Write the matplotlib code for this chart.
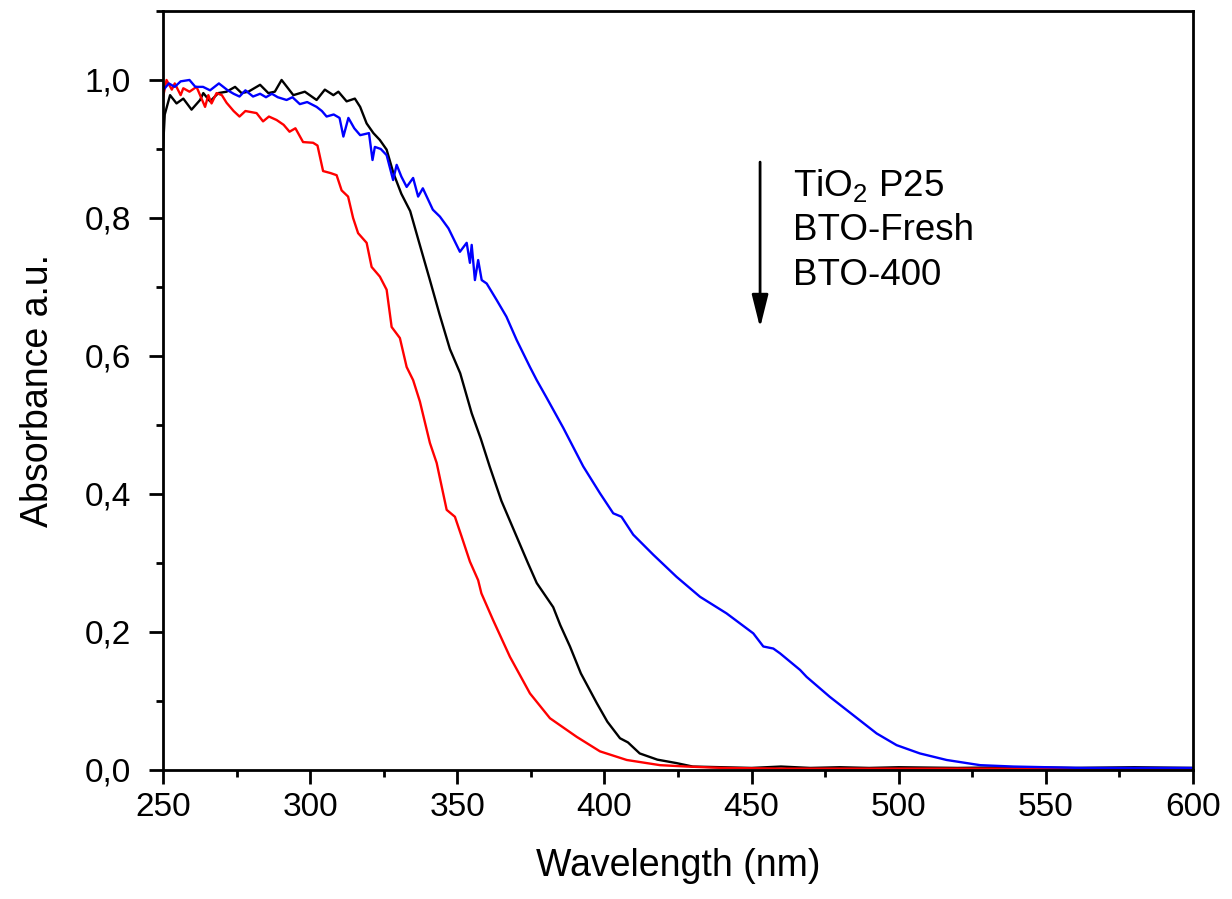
import matplotlib
matplotlib.use("Agg")
import matplotlib.pyplot as plt
from matplotlib.ticker import MultipleLocator, FuncFormatter

plt.rcParams['font.family'] = ['Liberation Sans', 'DejaVu Sans']
plt.rcParams['mathtext.fontset'] = 'custom'
plt.rcParams['mathtext.rm'] = 'Liberation Sans'
plt.rcParams['mathtext.it'] = 'Liberation Sans'

# TiO2 P25 (black)
wl_black = [250, 250.6, 252.4, 254.6, 256.9, 259.7, 262.6, 263.7, 266, 268.8, 271.6, 274.5, 276.7,
            279, 283, 285.8, 288, 290.3, 294.3, 298.2, 302.2, 305, 307.9, 309.6, 312.4, 315.2,
            317, 319.2, 321.5, 323.7, 326, 328.3, 331, 334, 337, 340.7, 344, 347.5, 351, 354.9,
            358, 361, 365, 370.2, 374, 377, 382.6, 385, 388.3, 392, 397.4, 401, 405.3, 408, 412,
            418, 424.5, 430, 440, 450, 460, 470, 480, 490, 500, 520, 540, 560, 580, 600]
abs_black = [0.90, 0.95, 0.978, 0.966, 0.973, 0.957, 0.971, 0.981, 0.969, 0.981, 0.983, 0.99, 0.981,
             0.983, 0.993, 0.981, 0.983, 1.0, 0.978, 0.983, 0.971, 0.986, 0.978, 0.983, 0.969, 0.973,
             0.961, 0.937, 0.923, 0.913, 0.899, 0.865, 0.835, 0.81, 0.765, 0.71, 0.66, 0.61, 0.575, 0.517,
             0.48, 0.44, 0.39, 0.338, 0.30, 0.271, 0.236, 0.21, 0.179, 0.14, 0.097, 0.07, 0.046, 0.04, 0.024,
             0.015, 0.01, 0.005, 0.004, 0.003, 0.005, 0.003, 0.004, 0.003, 0.004, 0.003, 0.004, 0.003, 0.004, 0.003]

# BTO-Fresh (red)
wl_red = [250, 251.2, 253, 254, 256, 256.9, 259, 261.4, 264.3, 265.4, 266.5, 268.2, 270, 271.6, 274,
          276, 278, 281.8, 284, 286, 288.6, 291, 293, 295, 297.6, 301, 302.5, 304.4, 307, 309, 310.7,
          312.9, 314.6, 316.3, 319.2, 320.9, 323.7, 326, 327.7, 330.5, 332.8, 335, 337.3, 340.7, 343,
          346.4, 349.2, 351.5, 354.3, 357.1, 358.2, 362.2, 367.9, 374.7, 381.5, 390.6, 398.5, 407.6,
          418.9, 428, 440, 460, 480, 500, 530, 560, 600]
abs_red = [0.975, 1.0, 0.986, 0.995, 0.978, 0.988, 0.983, 0.99, 0.961, 0.978, 0.966, 0.981, 0.978, 0.967, 0.955,
           0.947, 0.955, 0.952, 0.94, 0.947, 0.942, 0.935, 0.925, 0.93, 0.91, 0.909, 0.905, 0.868, 0.865, 0.862, 0.84,
           0.831, 0.80, 0.778, 0.764, 0.729, 0.715, 0.696, 0.642, 0.626, 0.584, 0.565, 0.534, 0.474, 0.445,
           0.377, 0.367, 0.338, 0.302, 0.275, 0.256, 0.217, 0.164, 0.111, 0.075, 0.048, 0.027, 0.0145,
           0.007, 0.005, 0.003, 0.002, 0.002, 0.002, 0.002, 0.002, 0.002]

# BTO-400 (blue)
wl_blue = [250, 252, 254, 256, 259, 261, 263.6, 266, 269, 272, 274, 276, 278, 280.6, 283, 285, 287, 289,
           292, 294, 296.5, 299, 302.2, 304, 305.6, 308, 310, 311.3, 313, 315, 317, 320, 321.2, 322, 324,
           326, 328.2, 329.4, 331, 332.8, 335, 336.7, 338.3, 341.7, 344.1, 347, 350.9, 353.2, 354.3, 354.9,
           356, 357.1, 358.3, 360, 363.4, 366.7, 370.2, 374.7, 377, 380.3, 386, 392.8, 398.5, 403, 405.8,
           409.8, 416.6, 424.5, 432.5, 441.5, 450.6, 454, 457.4, 459.7, 466.5, 468.7, 476.6, 482.3, 486.8,
           492.5, 499.3, 507.2, 516.3, 527.7, 539, 561.8, 600]
abs_blue = [0.985, 0.995, 0.99, 0.998, 1.0, 0.99, 0.99, 0.985, 0.995, 0.985, 0.98, 0.976, 0.985, 0.976, 0.98,
            0.975, 0.98, 0.975, 0.971, 0.975, 0.965, 0.968, 0.961, 0.955, 0.947, 0.95, 0.945, 0.918, 0.945,
            0.93, 0.92, 0.923, 0.884, 0.903, 0.9, 0.891, 0.855, 0.877, 0.86, 0.845, 0.858, 0.831, 0.843, 0.812,
            0.802, 0.785, 0.751, 0.764, 0.735, 0.761, 0.71, 0.739, 0.71, 0.705, 0.681, 0.657, 0.623, 0.584,
            0.565, 0.54, 0.496, 0.44, 0.401, 0.372, 0.367, 0.341, 0.312, 0.28, 0.251, 0.227, 0.198, 0.179,
            0.176, 0.169, 0.145, 0.135, 0.106, 0.087, 0.072, 0.053, 0.036, 0.024, 0.0145, 0.007, 0.005,
            0.003, 0.003]

labels = ['TiO$_2$ P25', 'BTO-Fresh', 'BTO-400']

fig = plt.figure(figsize=(12.32, 8.99), dpi=100)
ax = fig.add_axes([0.1323, 0.1435, 0.836, 0.8443])

ax.plot(wl_black, abs_black, color='black', lw=1.7)
ax.plot(wl_red, abs_red, color='red', lw=1.7)
ax.plot(wl_blue, abs_blue, color='blue', lw=1.7)

ax.set_xlim(250, 600)
ax.set_ylim(0, 1.1)
ax.xaxis.set_major_locator(MultipleLocator(50))
ax.xaxis.set_minor_locator(MultipleLocator(25))
ax.yaxis.set_major_locator(MultipleLocator(0.2))
ax.yaxis.set_minor_locator(MultipleLocator(0.1))
ax.yaxis.set_major_formatter(FuncFormatter(lambda v, p: f"{v:.1f}".replace('.', ',')))

ax.tick_params(which='major', direction='out', length=10, width=2, labelsize=24, pad=6)
ax.tick_params(axis='y', which='major', pad=13)
ax.tick_params(which='minor', direction='out', length=5, width=2)
ax.tick_params(top=False, right=False, which='both')
for s in ax.spines.values():
    s.set_linewidth(2)

ax.set_xlabel('Wavelength (nm)', fontsize=27, labelpad=18)
ax.set_ylabel('Absorbance a.u.', fontsize=27, labelpad=21)

# arrow and sample list
ax.annotate('', xy=(452.9, 0.641), xytext=(452.9, 0.881),
            arrowprops=dict(arrowstyle='-|>,head_length=0.8,head_width=0.2',
                            color='black', lw=2, mutation_scale=25, shrinkA=0, shrinkB=0))
for i, lab in enumerate(labels):
    ax.text(464.0, 0.832 - 0.0645 * i, lab, fontsize=26.5, va='baseline', ha='left')

fig.savefig('out.png', dpi=100)
